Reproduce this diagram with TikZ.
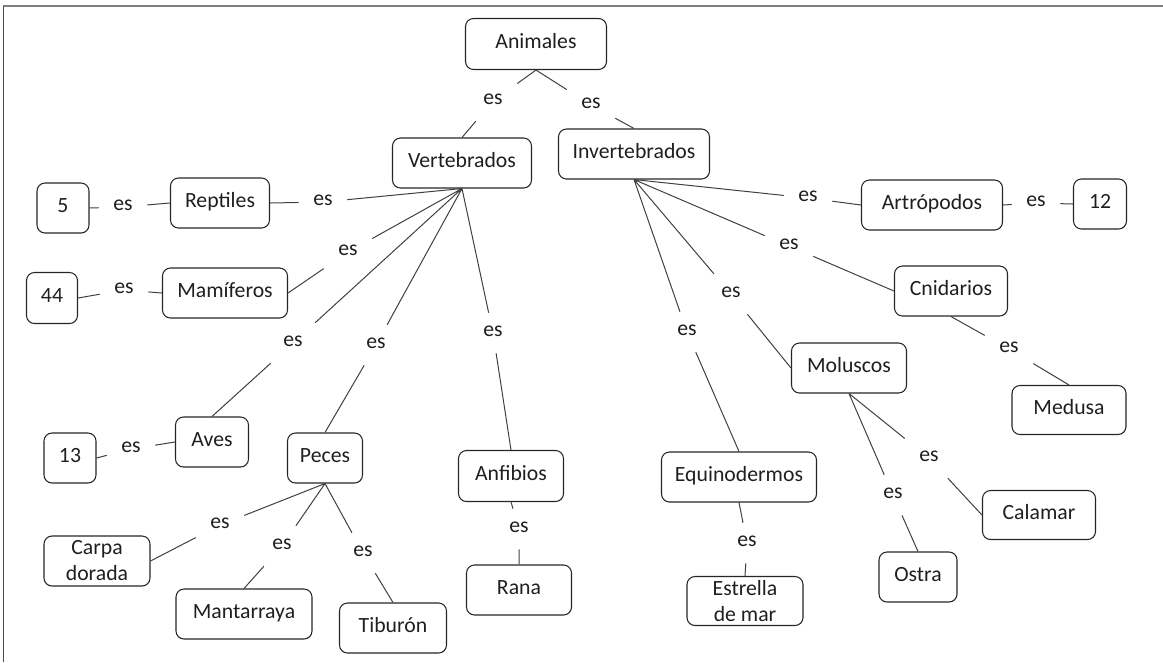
\documentclass[tikz,border=0pt]{standalone}
\usepackage{fontspec}
\setmainfont{Carlito}
\begin{document}
\begin{tikzpicture}[
  x=0.75pt, y=-0.75pt,
  txt/.style={font=\fontsize{16.3}{19.5}\selectfont, text=black!88},
  box/.style={txt, draw=black!85, line width=0.8pt, rounded corners=6pt,
    inner sep=0pt, align=center, minimum height=37.5pt},
  one/.style={text height=0.644em, text depth=0pt},
  bw/.style={minimum width={#1*0.75pt}},
  bh/.style={minimum height={#1*0.75pt}},
  rel/.style={txt, inner sep=0pt, minimum width=36pt, minimum height=30pt,
    text height=0.466em, text depth=0pt},
  link/.style={draw=black!75, line width=0.75pt}
]
\useasboundingbox (0,0) rectangle (1163,662);

% page frame
\draw[black!50, line width=1.5pt] (3,6) -- (1163,6);
\draw[black!70, line width=0.7pt] (3,6) -- (3,662);

% concepts
\node[box,one,bw=141,bh=51] (ani) at (536,44)  {Animales};
\node[box,one,bw=139] (ver) at (462,163) {Vertebrados};
\node[box,one,bw=151] (inv) at (634,154) {Invertebrados};

\node[box,one,bw=99]  (rep) at (220,203) {Reptiles};
\node[box,one,bw=52]  (n5)  at (63,208)  {5};
\node[box,one,bw=125] (mam) at (225,293) {Mamíferos};
\node[box,one,bw=51,bh=51] (n44) at (52,298) {44};
\node[box,one,bw=73]  (ave) at (212,442) {Aves};
\node[box,one,bw=52]  (n13) at (70,458)  {13};
\node[box,one,bw=75]  (pec) at (325,458) {Peces};
\node[box,bw=106]     (car) at (97,561)  {Carpa\\dorada};
\node[box,one,bw=136] (man) at (244,614) {Mantarraya};
\node[box,one,bw=107] (tib) at (393,628) {Tiburón};
\node[box,one,bw=105,bh=51] (anf) at (511,476) {Anfibios};
\node[box,one,bw=105] (ran) at (519,590) {Rana};

\node[box,one,bw=155] (equ) at (739,477) {Equinodermos};
\node[box,bw=116,bh=49] (est) at (745,601) {Estrella\\de mar};
\node[box,one,bw=141] (art) at (932,205) {Artrópodos};
\node[box,one,bw=53]  (n12) at (1100,204) {12};
\node[box,one,bw=113] (cni) at (951,291) {Cnidarios};
\node[box,one,bw=114,bh=49] (med) at (1069,410) {Medusa};
\node[box,one,bw=115] (mol) at (849,368) {Moluscos};
\node[box,one,bw=113,bh=49] (cal) at (1039,515) {Calamar};
\node[box,one,bw=78]  (ost) at (918,577) {Ostra};

% linking phrases
\node[rel] (eA1)  at (493,101) {es};
\node[rel] (eA2)  at (591,105) {es};
\node[rel] (eR)   at (323,202) {es};
\node[rel] (eR5)  at (123,207) {es};
\node[rel] (eM)   at (348,252) {es};
\node[rel] (eM44) at (124,290) {es};
\node[rel] (eAv)  at (293,343) {es};
\node[rel] (eAv13) at (131,449) {es};
\node[rel] (eP)   at (376,345) {es};
\node[rel] (eAn)  at (493,333) {es};
\node[rel] (ePC)  at (220,525) {es};
\node[rel] (ePM)  at (282,546) {es};
\node[rel] (ePT)  at (363,553) {es};
\node[rel] (eAR)  at (519,529) {es};
\node[rel] (eArt) at (808,198) {es};
\node[rel] (eA12) at (1036,203) {es};
\node[rel] (eCn)  at (789,246) {es};
\node[rel] (eCM)  at (1009,349) {es};
\node[rel] (eMo)  at (731,294) {es};
\node[rel] (eMC)  at (929,458) {es};
\node[rel] (eMO)  at (893,495) {es};
\node[rel] (eEq)  at (687,332) {es};
\node[rel] (eES)  at (747,543) {es};

% connectors
\path[link]
  (ani.south) -- (eA1) (eA1) -- (ver.north)
  (ani.south) -- (eA2) (eA2) -- (inv.north)
  (ver.south) -- (eR)  (eR)  -- (rep.east)
  (n5.east)   -- (eR5) (eR5) -- (rep.west)
  (ver.south) -- (eM)  (eM)  -- (mam.east)
  (n44.east)  -- (eM44) (eM44) -- (mam.west)
  (ver.south) -- (eAv) (eAv) -- (ave.north)
  (n13.east)  -- (eAv13) (eAv13) -- (ave.west)
  (ver.south) -- (eP)  (eP)  -- (pec.north)
  (ver.south) -- (eAn) (eAn) -- (anf.north)
  (pec.south) -- (ePC) (ePC) -- (car.east)
  (pec.south) -- (ePM) (ePM) -- (man.north)
  (pec.south) -- (ePT) (ePT) -- (tib.north)
  (anf.south) -- (eAR) (eAR) -- (ran.north)
  (inv.south) -- (eArt) (eArt) -- (art.west)
  (art.east)  -- (eA12) (eA12) -- (n12.west)
  (inv.south) -- (eCn) (eCn) -- (cni.west)
  (cni.south) -- (eCM) (eCM) -- (med.north)
  (inv.south) -- (eMo) (eMo) -- (mol.west)
  (mol.south) -- (eMC) (eMC) -- (cal.west)
  (mol.south) -- (eMO) (eMO) -- (ost.north)
  (inv.south) -- (eEq) (eEq) -- (equ.north)
  (equ.south) -- (eES) (eES) -- (est.north);
\end{tikzpicture}
\end{document}
